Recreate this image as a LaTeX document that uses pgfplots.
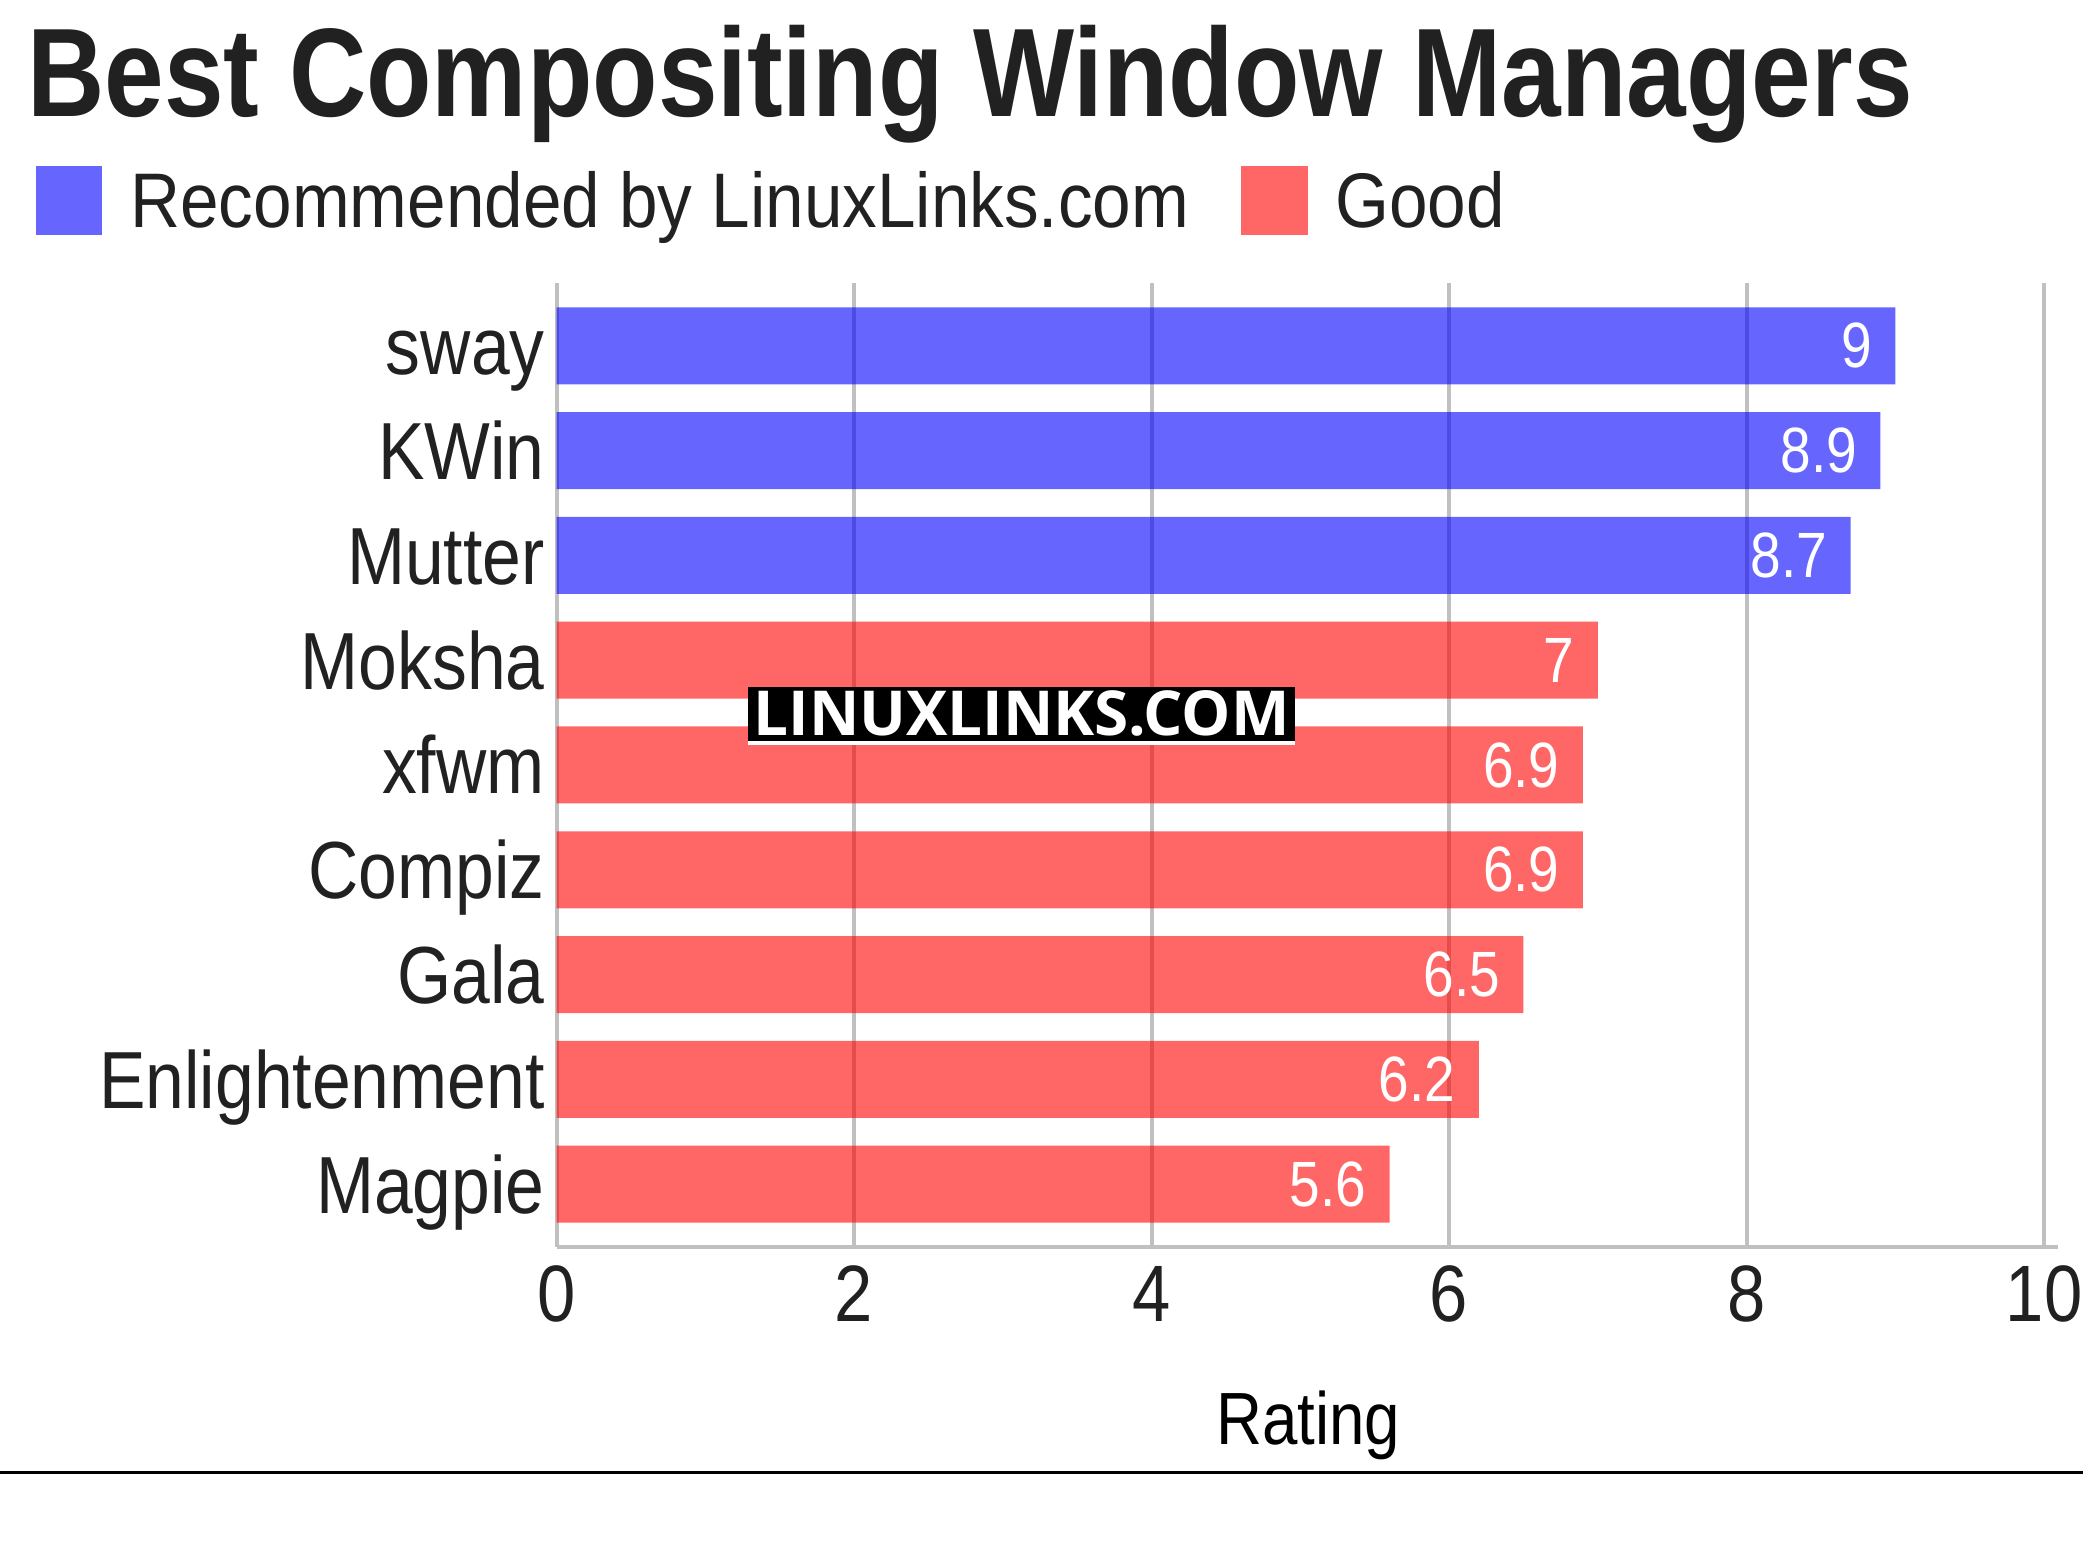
\documentclass[border=0pt]{standalone}
\usepackage{pgfplots}
\pgfplotsset{compat=1.18}
\usepackage{fontspec}
\setmainfont{Liberation Sans}[FakeStretch=0.86]
\newfontfamily\titlefont{Liberation Sans}[FakeStretch=0.85]
\newfontfamily\legfont{Liberation Sans}[FakeStretch=0.895]
\newfontfamily\wmfont{Open Sans}[FakeStretch=1.0]
\definecolor{txt}{HTML}{212121}
\definecolor{gridgray}{HTML}{C0C0C0}
\definecolor{recblue}{HTML}{6666FF}
\definecolor{goodred}{HTML}{FF6666}
\begin{document}
\begin{tikzpicture}[x=1pt,y=1pt]
\path[use as bounding box] (0,0) rectangle (1041.5,781);
\begin{axis}[
  at={(278.3pt,157.5pt)}, anchor=south west,
  scale only axis, width=743.7pt, height=482pt,
  xmin=0, xmax=10, ymin=-0.6, ymax=8.6,
  xtick={0,2,...,10}, ytick={0,...,8},
  yticklabels={Magpie,Enlightenment,Gala,Compiz,xfwm,Moksha,Mutter,KWin,sway},
  major tick length=0pt,
  axis line style={draw=none},
  xmajorgrids, grid style={color=gridgray, line width=2pt},
  xbar, bar width=38.5pt,
  tick label style={font=\fontsize{40}{48}\selectfont, color=txt},
  xticklabel style={anchor=base, yshift=-37.5pt},
  yticklabel style={anchor=base east, inner sep=0pt, xshift=-5.8pt, yshift=-14.5pt, font=\fontsize{40.5}{48}\selectfont},
  xlabel={Rating},
  xlabel style={at={(rel axis cs:0.5,0)}, anchor=base, yshift=-99pt, xshift=4pt, font=\fontsize{37}{44}\selectfont, color=black},
  nodes near coords,
  every node near coord/.append style={anchor=east, color=white, font=\fontsize{32}{38}\selectfont, inner sep=0pt, xshift=-11.5pt, fill opacity=1, text opacity=1, opacity=1},
  /pgf/number format/assume math mode=true,
  point meta=x,
  clip=false,
]
\addplot[fill=blue, fill opacity=0.6, draw=none, bar shift=0pt] coordinates {(9,8) (8.9,7) (8.7,6)};
\addplot[fill=red, fill opacity=0.6, draw=none, bar shift=0pt] coordinates {(7,5) (6.9,4) (6.9,3) (6.5,2) (6.2,1) (5.6,0)};
\draw[color=gridgray, line width=2.2pt] (rel axis cs:0,0) -- ([xshift=7pt]rel axis cs:1,0);
\end{axis}
% title
\node[anchor=base west, inner sep=0pt, text=txt, font=\titlefont\fontsize{63}{70}\selectfont\bfseries] at (13.5,722.5) {Best Compositing Window Managers};
% legend
\fill[recblue] (18,663.5) rectangle (51,698);
\node[anchor=base west, inner sep=0pt, text=txt, font=\legfont\fontsize{38.7}{46}\selectfont] at (65,667) {Recommended by LinuxLinks.com};
\fill[goodred] (620.5,663.5) rectangle (654,698);
\node[anchor=base west, inner sep=0pt, text=txt, font=\legfont\fontsize{38.7}{46}\selectfont] at (667.5,667) {Good};
% watermark
\fill[black] (374,410.5) rectangle (647.5,437.5);
\fill[white] (374,408.5) rectangle (647.5,410.5);
\node[inner sep=0pt, text=white, font=\wmfont\bfseries\fontsize{31}{36}\selectfont] at (510.75,424.25) {LINUXLINKS.COM};
% bottom rule
\draw[black, line width=1.5pt] (0,44.5) -- (1041.5,44.5);
\end{tikzpicture}
\end{document}
